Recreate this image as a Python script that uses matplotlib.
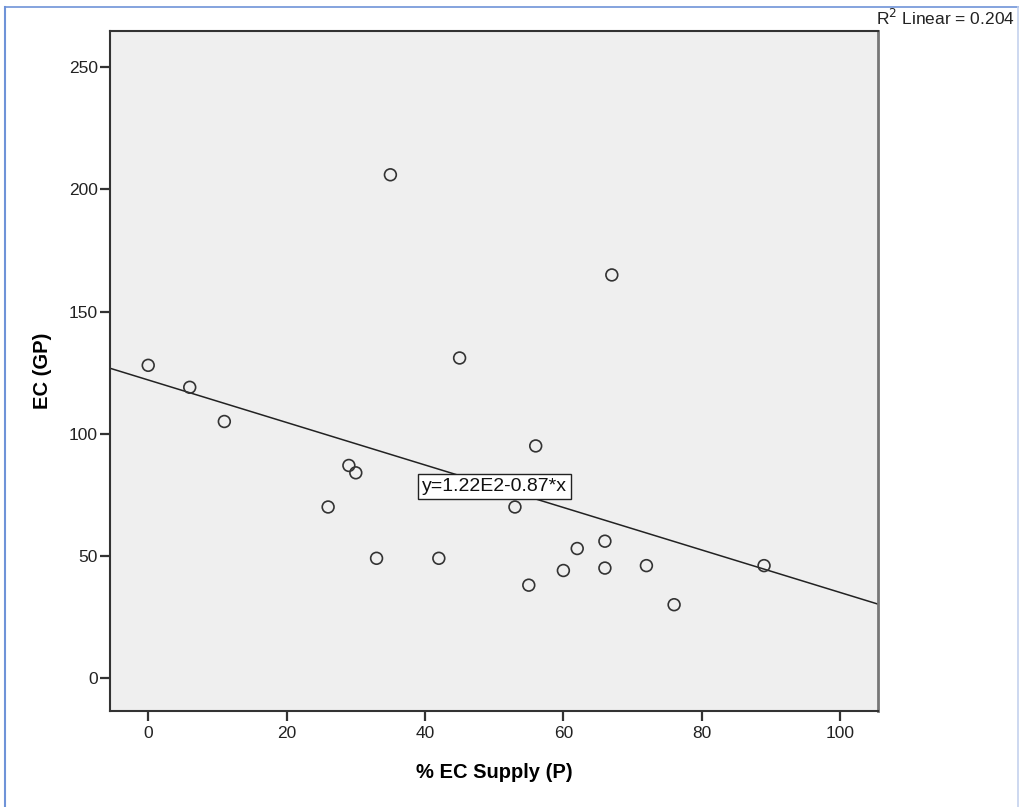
import matplotlib
matplotlib.use("Agg")
from matplotlib import pyplot as plt
from matplotlib.lines import Line2D
import numpy as np

plt.rcParams['font.family'] = ['Liberation Sans', 'DejaVu Sans']

# % EC supply (P) against EC (GP)
supply = [0, 6, 11, 26, 29, 30, 33, 35, 42, 45, 53, 55, 56, 60, 62, 66, 66, 67, 72, 76, 89]
ec_gp = [128, 119, 105, 70, 87, 84, 49, 206, 49, 131, 70, 38, 95, 44, 53, 56, 45, 165, 46, 30, 46]

# fitted line
intercept = 122
slope = -0.87
r2 = 0.204

fig = plt.figure(figsize=(10.2, 8.07), dpi=100)
ax = fig.add_axes([0.108, 0.119, 0.753, 0.843])
ax.set_facecolor('#efefef')

xlim = (-5.5, 105.5)
ylim = (-13.5, 265)

xs = np.array(xlim)
ax.plot(xs, intercept + slope * xs, color='#222222', lw=1.1, zorder=2)
ax.scatter(supply, ec_gp, s=72, facecolors='none', edgecolors='#333333',
           linewidths=1.2, zorder=3)

ax.text(50, 78.5, 'y=1.22E2-0.87*x', fontsize=14, ha='center', va='center',
        color='#111111', zorder=4,
        bbox=dict(boxstyle='square,pad=0.2', fc='white', ec='#222222', lw=1))

ax.set_xlim(xlim)
ax.set_ylim(ylim)
ax.set_xticks([0, 20, 40, 60, 80, 100])
ax.set_yticks([0, 50, 100, 150, 200, 250])
ax.tick_params(direction='out', length=7, width=1.6, color='#333333',
               labelsize=12.5, labelcolor='#222222', pad=2)
ax.tick_params(axis='x', pad=3.5)
for side in ax.spines.values():
    side.set_color('#333333')
    side.set_linewidth(1.5)
ax.spines['right'].set_color('#777777')
ax.spines['right'].set_linewidth(2)

ax.set_xlabel('% EC Supply (P)', fontsize=14.5, fontweight='bold', labelpad=16)
ax.set_ylabel('EC (GP)', fontsize=14.5, fontweight='bold', labelpad=12)

fig.text(0.995, 0.99, 'R$^2$ Linear = 0.%03d' % round(r2 * 1000), ha='right', va='top',
         fontsize=12.5, color='#222222')

# frame around the whole output
blue = '#6f93d8'
fig.add_artist(Line2D([0.005, 1.0], [0.991, 0.991], color=blue, lw=1.2, transform=fig.transFigure))
fig.add_artist(Line2D([0.005, 0.005], [0.0, 0.991], color=blue, lw=1.5, transform=fig.transFigure))
fig.add_artist(Line2D([0.998, 0.998], [0.0, 0.991], color='#c5d2ee', lw=1.2, transform=fig.transFigure))

fig.savefig('out.png', dpi=100)
